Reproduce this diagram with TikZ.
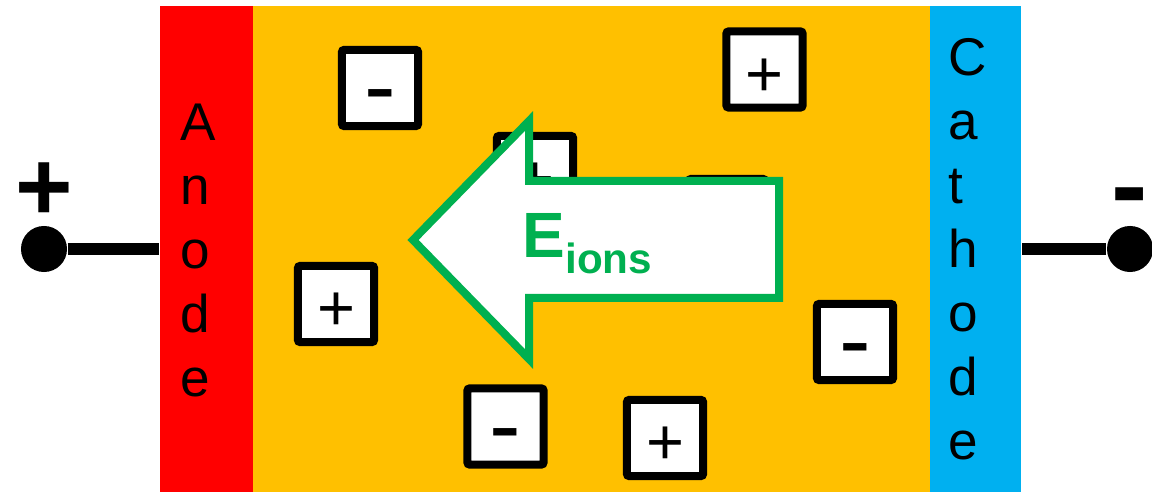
\documentclass[tikz,border=0pt]{standalone}
\usepackage{fontspec}
\setmainfont{Liberation Sans}
\usepackage{tikz}
\usetikzlibrary{calc}
\definecolor{CellRed}{RGB}{255,0,0}
\definecolor{CellOrange}{RGB}{255,192,0}
\definecolor{CellBlue}{RGB}{0,176,240}
\definecolor{CellGreen}{RGB}{0,176,80}

\begin{document}
\begin{tikzpicture}[
  x=0.01cm,y=-0.01cm,
  band/.style={inner sep=0pt,minimum height=48.6mm},
  letters/.style={inner sep=0pt,anchor=north west,align=left,font=\fontsize{15.1}{18.2}\selectfont},
  ion/.style={draw,fill=white,line width=0.8mm,rounded corners=0.2mm,minimum size=7.6mm,inner sep=0pt,
              text height=5.3mm,text depth=0pt},
  cation/.style={ion,font=\fontsize{18.5}{18.5}\selectfont},
  anion/.style={ion,text height=6.1mm,font=\fontsize{27}{27}\selectfont},
  pole/.style={circle,fill=black,minimum size=4.6mm,inner sep=0pt},
  sign/.style={inner sep=0pt,anchor=base,font=\bfseries\fontsize{28}{28}\selectfont},
  wire/.style={line width=1.2mm}
]
\useasboundingbox (0,0) rectangle (1152,492);
% electrodes and electrolyte
\node[band,fill=CellRed,minimum width=9.3mm] (anode) at (206.5,249) {};
\node[band,fill=CellOrange,minimum width=67.7mm] (bath) at (591.5,249) {};
\node[band,fill=CellBlue,minimum width=9.1mm] (cathode) at (975.5,249) {};
\node[letters] (anodetext) at (180,103) {A\\n\\o\\d\\e};
\node[letters] (cathodetext) at (948,38) {C\\a\\t\\h\\o\\d\\e};
% ions
\node[anion] (ion1) at (380,88) {-};
\node[cation] (ion2) at (764.5,69.5) {+};
\node[cation] (ion3) at (535,174) {+};
\node[ion] (ion4) at (727,217) {};
\node[cation] (ion5) at (336,304) {+};
\node[anion] (ion6) at (855,342) {-};
\node[anion] (ion7) at (505.5,426.5) {-};
\node[cation] (ion8) at (665,438) {+};
% field arrow
\draw[CellGreen,fill=white,line width=0.8mm,line join=miter]
  (413,240) -- (529,121) -- (529,181) -- (779,181) -- (779,298) -- (529,298) -- (529,359) -- cycle;
\node[inner sep=0pt,anchor=base west,text=CellGreen,font=\bfseries\fontsize{18.2}{18.2}\selectfont] (field) at (522,258)
  {E\raisebox{-4.55pt}{\fontsize{12}{12}\selectfont ions}};
% terminals
\node[pole] (plusend) at (44,249) {};
\node[pole] (minusend) at (1130,249) {};
\node[sign] (plussign) at (44,221) {+};
\node[sign,font=\bfseries\fontsize{31}{31}\selectfont] (minussign) at (1130,223) {-};
\draw[wire] (plusend) -- (plusend -| anode.west);
\draw[wire] (minusend) -- (minusend -| cathode.east);
\end{tikzpicture}
\end{document}
